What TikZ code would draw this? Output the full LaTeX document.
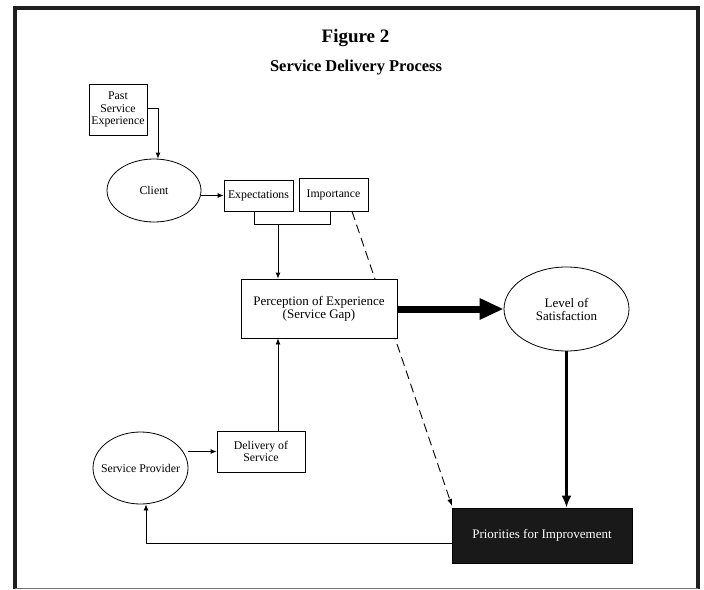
\documentclass[tikz,border=0pt]{standalone}
\usepackage{fontspec}
\setmainfont{Liberation Serif}
\usetikzlibrary{shapes.geometric,arrows.meta}
\begin{document}
\begin{tikzpicture}[x=1pt,y=-1pt,
  box/.style={draw, line width=0.8pt, fill=white, inner sep=0pt, align=center},
  oval/.style={draw, line width=0.8pt, ellipse, fill=white, inner sep=0pt, align=center},
  sm/.style={font=\fontsize{11.8}{12.2}\selectfont},
  bg/.style={font=\fontsize{13}{14}\selectfont},
  conn/.style={line width=0.8pt, -{Latex[length=6pt,width=5pt]}},
  thick conn/.style={line width=3pt, -{Latex[length=12pt,width=10pt]}},
  heavy conn/.style={line width=7pt, -{Triangle[length=24pt,width=20pt]}},
  dashconn/.style={line width=0.9pt, dash pattern=on 9pt off 5pt, -{Latex[length=7pt,width=5pt]}},
  frame/.style={line width=4pt, color=black!88}]
\useasboundingbox (0,0) rectangle (704,589);
\fill[white] (0,0) rectangle (704,589);
% frame
\draw[frame] (14.5,589) -- (14.5,7.5) -- (698,7.5) -- (698,589);
\draw[line width=1.4pt, black!55] (14.5,588.3) -- (698,588.3);
% titles
\node[font=\fontsize{19}{20}\selectfont\bfseries, anchor=base] (t1) at (355.5,42) {Figure 2};
\node[font=\fontsize{16.5}{18}\selectfont\bfseries, anchor=base] (t2) at (356,71) {Service Delivery Process};
% nodes
\node[box, sm, minimum width=58pt, minimum height=51pt] (past) at (118,109.5) {Past\\Service\\Experience};
\node[oval, sm, minimum width=94pt, minimum height=63pt] (client) at (154,190.5) {Client};
\node[box, sm, minimum width=69pt, minimum height=31pt] (exp) at (258.5,195.5) {Expectations};
\node[box, sm, minimum width=69pt, minimum height=33pt] (imp) at (333.5,194.5) {Importance};
\node[oval, bg, minimum width=125pt, minimum height=84pt] (lev) at (566.5,309) {Level of\\[-1pt]Satisfaction};
\node[box, sm, minimum width=88pt, minimum height=41pt] (del) at (261,451.5) {Delivery of\\Service};
\node[oval, sm, inner xsep=-8pt, minimum width=95pt, minimum height=72pt] (prov) at (140.5,468) {Service Provider};
\node[box, bg, fill=black!90, text=white, minimum width=180pt, minimum height=55pt] (prio) at (542,535.5) {Priorities for Improvement};
% dashed connector (runs behind the perception box)
\coordinate (dtop) at (352,211);
\coordinate (dend) at (452,506);
\draw[dashconn] (imp.south -| dtop) -- (dend);
\node[box, bg, minimum width=156pt, minimum height=59pt] (perc) at (319,308.5) {Perception of Experience\\[-1pt](Service Gap)};
% connectors
\coordinate (j1) at (158,108);
\draw[conn] (past.east |- j1) -| (client.north -| j1);
\draw[conn] (client.east |- exp.west) -- (exp.west);
\coordinate (bl) at (254,224);
\coordinate (br) at (330,224);
\draw[line width=0.8pt] (exp.south -| bl) -- (bl) -- (br) -- (imp.south -| br);
\coordinate (bm) at (278,224);
\draw[conn] (bm) -- (perc.north -| bm);
\draw[heavy conn] (perc.east |- lev.west) -- (lev.west);
\draw[thick conn] (lev.south) -- (lev.south |- prio.north);
\draw[conn] (del.north -| bm) -- (perc.south -| bm);
\draw[conn] (prov.east |- del.west) -- (del.west);
\coordinate (fb) at (146,543);
\draw[conn] (prio.west |- fb) -- (fb) -- (prov.south -| fb);
\end{tikzpicture}
\end{document}
